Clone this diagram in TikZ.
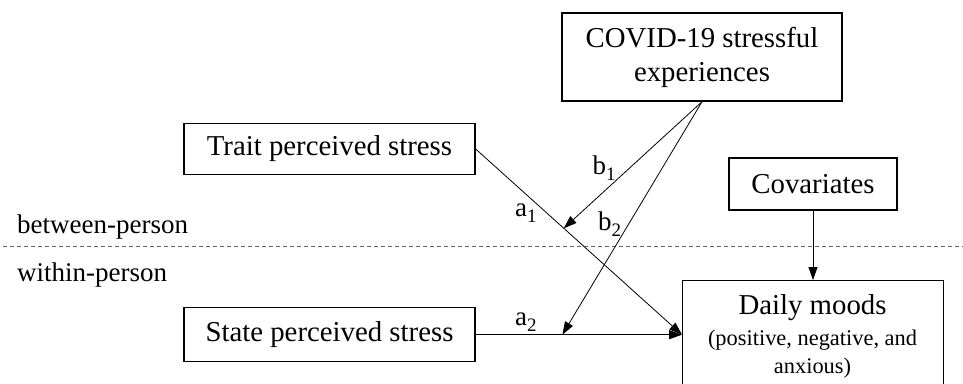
\documentclass[tikz,border=0pt]{standalone}
\usepackage{fontspec}
\setmainfont{Liberation Serif}
\usetikzlibrary{arrows.meta}
\tikzset{
  box/.style={draw, line width=1.4pt, inner sep=0pt, align=center, font=\fontsize{28.8}{34}\selectfont},
  conn/.style={line width=0.8pt, -{Triangle[length=13pt,width=9pt]}},
  lab/.style={anchor=base west, inner sep=0pt, font=\fontsize{27}{30}\selectfont},
  side/.style={anchor=base west, inner sep=0pt, font=\fontsize{27}{30}\selectfont},
}
\newcommand{\subs}[1]{\raisebox{-6pt}{\fontsize{19}{19}\selectfont #1}}
\begin{document}
\begin{tikzpicture}[x=1pt,y=-1pt]
\useasboundingbox (0,0) rectangle (963,383);
\begin{scope}
\clip (0,0) rectangle (963,383);
% dashed separator
\draw[gray!80!black, line width=0.9pt, dash pattern=on 4pt off 3pt] (3,246) -- (963,246);
% nodes
\node[box, minimum width=280pt, minimum height=88pt] (covid) at (702,57) {COVID-19 stressful\\experiences};
\node[box, minimum width=291pt, minimum height=51pt] (trait) at (329.5,149) {Trait perceived stress};
\node[box, minimum width=291pt, minimum height=54pt] (state) at (329.5,334.7) {State perceived stress};
\node[box, minimum width=168pt, minimum height=52pt] (cov) at (813,184) {Covariates};
\node[draw, line width=1.4pt, minimum width=261pt, minimum height=120pt, anchor=north west] (mood) at (682,280) {};
\node[inner sep=0pt, font=\fontsize{28.8}{34}\selectfont] (moodt) at (812.5,308) {Daily moods};
\node[inner sep=0pt, align=center, font=\fontsize{22.4}{28}\selectfont] (moods) at (812.5,354) {(positive, negative, and\\anxious)};
\end{scope}
% side labels
\node[side] (bp) at (17,233) {between-person};
\node[side] (wp) at (17,281.5) {within-person};
% connectors
\coordinate (mt) at (682,334.7);
\draw[conn] (trait.east) -- (mt);
\draw[conn] (state.east) -- (mt);
\path (trait.east) -- (mt) coordinate[pos=0.427] (m1);
\path (state.east) -- (mt) coordinate[pos=0.42] (m2);
\draw[conn] (covid.south) -- (m1);
\draw[conn] (covid.south) -- (m2);
\draw[conn] (cov.south) -- (cov.south |- mood.north);
% path labels
\node[lab] (la1) at (515,216.7) {a\subs{1}};
\node[lab] (lb1) at (592.5,174) {b\subs{1}};
\node[lab] (lb2) at (598,230) {b\subs{2}};
\node[lab] (la2) at (515,325) {a\subs{2}};
\end{tikzpicture}
\end{document}
